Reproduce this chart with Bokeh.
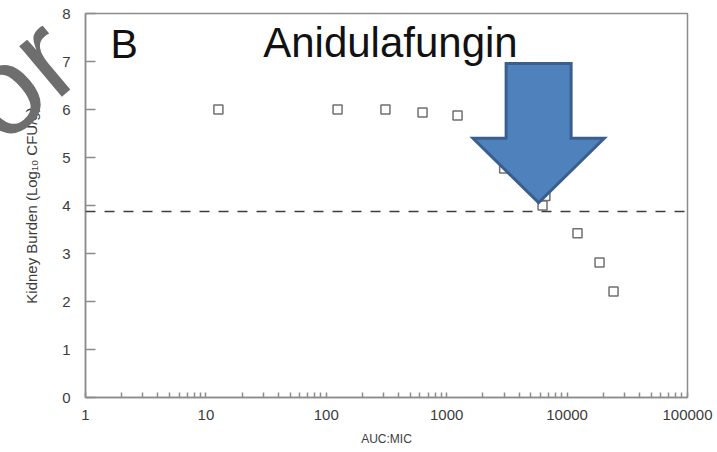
import math
from bokeh.plotting import figure
from bokeh.models import FixedTicker, Span, Label, Div
from bokeh.layouts import column
from bokeh.embed import file_html
from bokeh.resources import INLINE

# ---- data ----
auc_mic = [12.7, 124, 310, 630, 1230, 3000, 6600, 6250, 12200, 18600, 24300]
kidney_burden = [6.0, 6.0, 6.0, 5.94, 5.875, 4.77, 4.2, 4.0, 3.42, 2.81, 2.21]

stasis_line = 3.875          # dashed reference line (log10 CFU/g)

x_ticks = [1, 10, 100, 1000, 10000, 100000]
x_tick_labels = ["1", "10", "100", "1000", "10000", "100000"]
y_ticks = [0, 1, 2, 3, 4, 5, 6, 7, 8]

# arrow annotation (points at the stasis point)
arrow_tip_x = 5800
arrow_tip_y = 4.06
arrow_head_base_y = 5.40
arrow_top_y = 6.96
arrow_shaft_half = 0.27      # decades
arrow_head_half = 0.545      # decades

FONT = "Liberation Sans"
AXIS_COLOR = "#8c8c8c"
TEXT_COLOR = "#3c3c3c"

p = figure(
    x_axis_type="log",
    x_range=(1, 100000),
    y_range=(0, 8),
    frame_width=602,
    frame_height=384,
    min_border_left=85,
    min_border_right=30,
    min_border_top=13,
    min_border_bottom=55,
    output_backend="svg",
    toolbar_location=None,
    background_fill_color="white",
    border_fill_color="white",
)
p.grid.visible = False
p.outline_line_color = AXIS_COLOR
p.outline_line_width = 1.5

# x axis
minor = [m * 10 ** d for d in range(5) for m in range(2, 10)]
p.xaxis.ticker = FixedTicker(ticks=x_ticks, minor_ticks=minor)
p.xaxis.major_label_overrides = {t: s for t, s in zip(x_ticks, x_tick_labels)}
p.xaxis.axis_label = "AUC:MIC"

# y axis
p.yaxis.ticker = FixedTicker(ticks=y_ticks)
p.yaxis.axis_label = "Kidney Burden (Log\u2081\u2080 CFU/g)"

for ax in (p.xaxis[0], p.yaxis[0]):
    ax.axis_line_color = AXIS_COLOR
    ax.axis_line_width = 1.5
    ax.major_tick_line_color = AXIS_COLOR
    ax.minor_tick_line_color = AXIS_COLOR
    ax.major_tick_line_width = 1.5
    ax.minor_tick_line_width = 1.5
    ax.major_tick_out = 0
    ax.minor_tick_out = 0
    ax.major_label_text_font = FONT
    ax.major_label_text_color = TEXT_COLOR
    ax.major_label_text_font_size = "15px"
    ax.axis_label_text_font = FONT
    ax.axis_label_text_font_style = "normal"
    ax.axis_label_text_color = TEXT_COLOR

p.xaxis.major_tick_in = 5
p.xaxis.minor_tick_in = 5
p.xaxis.major_label_standoff = 12
p.xaxis.axis_label_text_font_size = "12px"
p.xaxis.axis_label_standoff = 9

p.yaxis.major_tick_in = 10
p.yaxis.minor_tick_line_color = None
p.yaxis.major_label_standoff = 15
p.yaxis.axis_label_text_font_size = "15px"
p.yaxis.axis_label_standoff = 19

# dashed line
p.add_layout(Span(location=stasis_line, dimension="width", line_color="#3c3c3c",
                  line_width=1.5, line_dash="10 9"))

# data points
p.scatter(auc_mic, kidney_burden, marker="square", size=9, fill_color="white",
          line_color="#707070", line_width=1.5)

# arrow
lt = math.log10(arrow_tip_x)
ax_ = [10 ** (lt - arrow_shaft_half), 10 ** (lt + arrow_shaft_half),
       10 ** (lt + arrow_shaft_half), 10 ** (lt + arrow_head_half),
       arrow_tip_x, 10 ** (lt - arrow_head_half), 10 ** (lt - arrow_shaft_half)]
ay_ = [arrow_top_y, arrow_top_y, arrow_head_base_y, arrow_head_base_y,
       arrow_tip_y, arrow_head_base_y, arrow_head_base_y]
p.patch(ax_, ay_, fill_color="#4f81bd", line_color="#3a5f8e", line_width=3,
        line_join="miter")

# title texts
p.add_layout(Label(x=1.61, y=7.37, text="B", text_font=FONT, text_font_size="41px",
                   text_color="#111111", text_align="left", text_baseline="alphabetic"))
p.add_layout(Label(x=341, y=7.39, text="Anidulafungin", text_font=FONT,
                   text_font_size="42px", text_color="#111111", text_align="center",
                   text_baseline="alphabetic"))

# watermark fragment (lies outside the plot frame, so drawn as an overlay)
wm = Div(
    text="or",
    styles={
        "position": "absolute",
        "left": "2px",
        "top": "41px",
        "margin": "0",
        "padding": "0",
        "font-family": "'Liberation Sans', Arial, sans-serif",
        "font-size": "125px",
        "line-height": "1",
        "color": "#6e6e6e",
        "transform-origin": "0px 106px",
        "transform": "rotate(-40deg)",
        "z-index": "10",
        "pointer-events": "none",
        "white-space": "nowrap",
    },
)

layout = column(p, wm)
open("out.html", "w").write(file_html(layout, INLINE))
